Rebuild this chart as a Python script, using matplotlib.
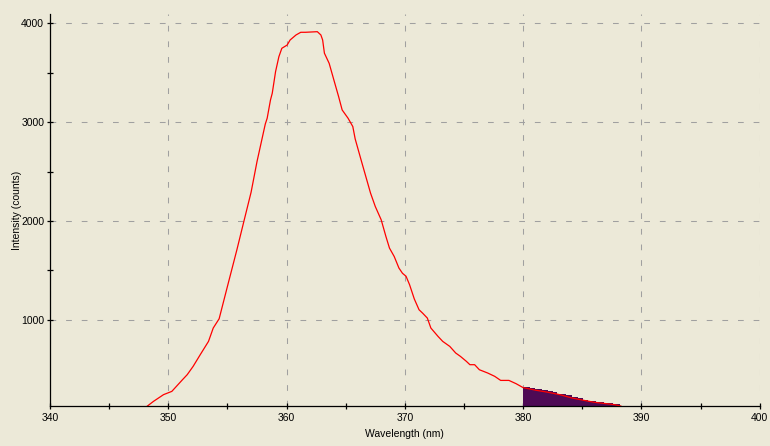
import matplotlib
matplotlib.use('Agg')
import matplotlib.pyplot as plt
from matplotlib.ticker import MultipleLocator, FixedLocator

# emission spectrum
wavelength = [348.0, 348.75, 349.6, 350.3, 351.2, 351.6, 352.1, 352.7, 353.4, 353.8,
              354.3, 355.0, 355.8, 356.4, 357.0, 357.5, 358.2, 358.36, 358.64, 358.79,
              359.07, 359.35, 359.6, 360.05, 360.3, 360.8, 361.2, 361.6, 362.6, 362.9,
              363.05, 363.2, 363.6, 364.0, 364.4, 364.7, 365.2, 365.6, 365.8, 366.3,
              366.7, 367.1, 367.5, 368.0, 368.4, 368.7, 369.1, 369.5, 369.8, 370.1,
              370.4, 370.8, 371.2, 371.5, 371.9, 372.2, 372.8, 373.2, 373.8, 374.3,
              374.7, 375.2, 375.5, 375.9, 376.3, 377.0, 377.6, 378.1, 378.8, 379.4,
              380.0, 381.1, 382.1, 383.1, 384.1, 385.1, 386.0, 387.0, 387.7, 388.25,
              388.5]
intensity = [105, 174, 242, 275, 393, 444, 528, 646, 781, 916,
             1010, 1337, 1708, 2000, 2290, 2600, 2980, 3039, 3224, 3292,
             3511, 3662, 3747, 3780, 3831, 3882, 3909, 3909, 3915, 3882,
             3831, 3697, 3595, 3426, 3258, 3123, 3039, 2955, 2830, 2617,
             2449, 2281, 2146, 2011, 1842, 1725, 1640, 1523, 1470, 1440,
             1354, 1210, 1101, 1067, 1017, 916, 832, 781, 730, 663,
             629, 579, 545, 545, 494, 461, 427, 386, 386, 353,
             313, 286, 266, 242, 209, 185, 165, 151, 141, 127,
             110]

# stepped shaded band (left edges and heights)
band_x = [380.0, 380.6, 381.0, 381.6, 382.1, 382.5, 382.9, 383.6, 384.1, 384.6,
          385.1, 385.5, 386.2, 386.8, 387.6, 388.2]
band_y = [316, 305, 299, 286, 275, 265, 252, 235, 218, 204,
          191, 178, 168, 158, 148, 148]

y_minor = [1500, 2500, 3500]

bg = '#ECE9D8'
plt.rcParams['font.family'] = ['Liberation Sans', 'DejaVu Sans']
plt.rcParams['font.size'] = 7.5

fig = plt.figure(figsize=(7.7, 4.46), dpi=100, facecolor=bg)
ax = fig.add_axes([50 / 770, 1 - 406 / 446, 709.7 / 770, 392 / 446], facecolor=bg)

ax.fill_between(band_x, 0, band_y, step='post', color='#4E0A55', lw=0)
ax.plot(wavelength, intensity, color='#FF0000', lw=0.9)

ax.set_xlim(340, 400)
ax.set_ylim(127, 4094)
ax.xaxis.set_major_locator(MultipleLocator(10))
ax.xaxis.set_minor_locator(MultipleLocator(5))
ax.yaxis.set_major_locator(MultipleLocator(1000))
ax.yaxis.set_minor_locator(FixedLocator(y_minor))

ax.grid(True, which='major', color='#A0A0A0', lw=0.75, ls=(0, (5.5, 9.5)))
ax.set_axisbelow(True)

for s in ['top', 'right']:
    ax.spines[s].set_visible(False)
for s in ['left', 'bottom']:
    ax.spines[s].set_linewidth(0.9)
    ax.spines[s].set_color('black')

ax.tick_params(which='both', direction='inout', length=4.3, width=0.9, colors='black', pad=2)
ax.tick_params(axis='x', pad=3)

ax.set_xlabel('Wavelength (nm)', labelpad=4)
ax.set_ylabel('Intensity (counts)')
ax.yaxis.set_label_coords(-0.0395, 0.5)

fig.savefig('out.png', dpi=100, facecolor=bg)
